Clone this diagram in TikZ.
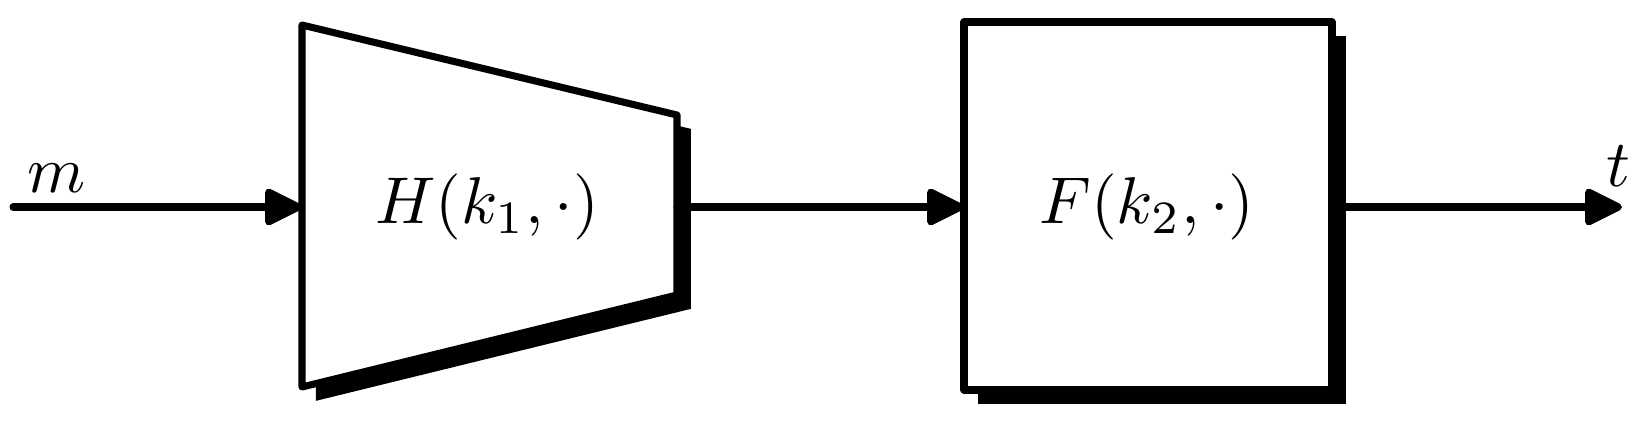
\documentclass[tikz,border=0pt]{standalone}
\usetikzlibrary{arrows.meta,shadows}
\begin{document}
\begin{tikzpicture}[x=0.1587pt, y=-0.1587pt, line width=1.12pt, line join=round, line cap=round,
    flow/.style={-{Triangle[length=6.6pt, width=6.2pt, round]}},
    label/.style={scale=1.05},
    blockshadow/.style={drop shadow={shadow xshift=2.2pt, shadow yshift=-2.2pt, fill=black, opacity=1}}]
    \useasboundingbox (0,0) rectangle (1650,424);

    % Vertices
    \coordinate (in) at (13,207);
    \coordinate (Hin) at (302,207);
    \coordinate (Hout) at (677,207);
    \coordinate (Fin) at (964,207);
    \coordinate (Fout) at (1332,207);
    \coordinate (out) at (1622,207);

    % Blocks
    \filldraw[fill=white, blockshadow] (302,25) -- (677,115) -- (677,295) -- (302,387) -- cycle;
    \filldraw[fill=white, blockshadow] (964,22) rectangle (1332,390);

    % Labels
    \node[label] (H) at (487,207) {$H(k_1,\cdot)$};
    \node[label] (F) at (1147,207) {$F(k_2,\cdot)$};
    \node[label] (m) at (57,178) {$m$};
    \node[label] (t) at (1618,166) {$t$};

    % Path m -> H -> F -> t
    \draw[flow] (in) -- (Hin);
    \draw[flow] (Hout) -- (Fin);
    \draw[flow] (Fout) -- (out);
\end{tikzpicture}
\end{document}
